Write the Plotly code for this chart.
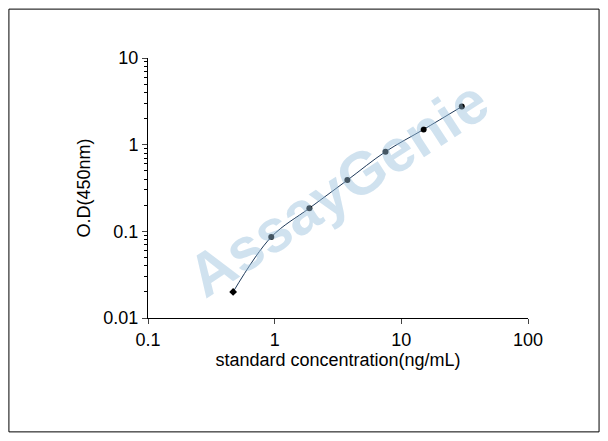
import plotly.graph_objects as go

conc = [0.47, 0.94, 1.88, 3.75, 7.5, 15, 30]
od = [0.02, 0.086, 0.185, 0.39, 0.83, 1.5, 2.75]
xticks = [0.1, 1, 10, 100]
yticks = [0.01, 0.1, 1, 10]
yminor = [m * d for d in [0.01, 0.1, 1] for m in range(2, 10)]

fig = go.Figure()
fig.add_trace(go.Scatter(x=conc, y=od, mode="lines+markers",
    line=dict(color="#1f3a5a", width=1, shape="spline"),
    marker=dict(color="black", size=6,
                symbol=["diamond"] + ["circle"] * (len(conc) - 1))))
fnt = dict(family="Liberation Sans, Arial", size=18, color="black")
fig.update_xaxes(type="log", range=[-1, 2], tickvals=xticks,
    ticktext=[str(v) for v in xticks], showgrid=False, showline=True,
    linecolor="black", ticks="outside", ticklen=5, tickfont=fnt,
    title=dict(text="standard concentration(ng/mL)", font=fnt, standoff=2),
    zeroline=False)
fig.update_yaxes(type="log", range=[-2, 1], tickvals=yticks,
    ticktext=[str(v) for v in yticks], showgrid=False, showline=True,
    linecolor="black", ticks="outside", ticklen=5, tickfont=fnt,
    minor=dict(tickvals=yminor, ticks="outside", ticklen=3, tickcolor="black", showgrid=False),
    title=dict(text="O.D(450nm)", font=fnt, standoff=8), zeroline=False)
fig.add_annotation(text="<b>AssayGenie</b>", xref="paper", yref="paper", x=0.5, y=0.5,
    showarrow=False, textangle=-33,
    font=dict(family="Liberation Sans, Arial", size=60, color="rgba(150,190,220,0.45)"))
fig.add_shape(type="rect", xref="paper", yref="paper", x0=-0.366, x1=1.187,
    y0=-0.438, y1=1.188, line=dict(color="black", width=1))
fig.update_layout(width=600, height=433, margin=dict(l=140, r=80, t=50, b=123),
    plot_bgcolor="white", paper_bgcolor="white", showlegend=False)
fig.write_html("out.html")
